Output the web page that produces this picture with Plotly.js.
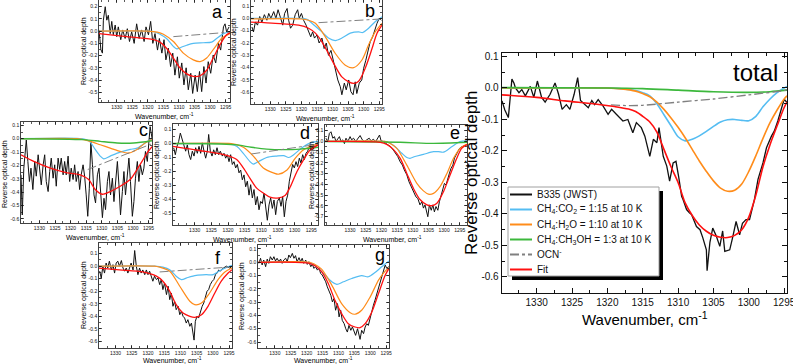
<!DOCTYPE html>
<html>
<head>
<meta charset="utf-8">
<script src="https://cdn.plot.ly/plotly-3.0.1.min.js"></script>
<style>
  html, body { margin: 0; padding: 0; background: #fff; }
  #chart { width: 793px; height: 364px; }
</style>
</head>
<body>
<div id="chart"></div>
<script>
// ---- data: [wavenumber cm-1, reverse optical depth] ----

// panel a
const aBlack = [[1335.7,0.01],[1335.1,-0.15],[1334.6,-0.18],[1334.3,0.09],[1333.7,0.2],[1333.2,0.09],[1332.7,0.13],[1332.1,-0.02],[1331.6,0.08],[1331.1,-0.03],[1330.5,0.05],[1330.0,-0.045],[1329.5,0.035],[1328.7,-0.07],[1328.1,0.01],[1327.3,-0.06],[1326.6,0.02],[1325.9,-0.085],[1325.2,-0.005],[1324.4,-0.1],[1323.6,0.06],[1322.8,-0.06],[1322.0,0.01],[1321.2,-0.085],[1320.6,0.035],[1319.8,-0.03],[1319.1,0.08],[1318.4,-0.1],[1317.7,-0.02],[1316.9,-0.155],[1316.3,-0.06],[1315.5,-0.18],[1314.8,-0.07],[1314.2,-0.235],[1313.4,-0.14],[1312.7,-0.29],[1312.0,-0.18],[1311.3,-0.36],[1310.5,-0.21],[1309.9,-0.385],[1309.1,-0.26],[1308.4,-0.44],[1307.7,-0.3],[1307.0,-0.48],[1306.2,-0.345],[1305.6,-0.51],[1304.8,-0.36],[1304.1,-0.495],[1303.4,-0.33],[1302.7,-0.495],[1302.0,-0.29],[1301.3,-0.425],[1300.6,-0.25],[1299.8,-0.345],[1299.0,-0.195],[1298.2,-0.26],[1297.3,-0.1],[1296.6,-0.155],[1295.7,0.035],[1295.2,0.06],[1294.7,-0.005],[1293.9,0.035]];
const aCO2 = [[1335.7,0],[1320,0],[1318,-0.005],[1316.1,-0.025],[1314,-0.06],[1311.8,-0.125],[1310.7,-0.145],[1309.1,-0.13],[1307.5,-0.115],[1305.4,-0.1],[1302.2,-0.095],[1299.5,-0.09],[1297.9,-0.06],[1295.7,-0.02],[1293.6,-0.003]];
const aH2O = [[1335.7,0],[1320,0],[1317,-0.008],[1315,-0.025],[1311.8,-0.085],[1308.6,-0.18],[1305.4,-0.235],[1303.2,-0.25],[1301.1,-0.22],[1298.4,-0.13],[1296.3,-0.06],[1293.6,-0.02]];
const aOCN = [[1311.8,-0.045],[1293.6,-0.008]];
const aFit = [[1335.7,-0.02],[1326.8,-0.045],[1318.2,-0.07],[1316.1,-0.09],[1314,-0.14],[1311.8,-0.22],[1309.7,-0.3],[1307.5,-0.35],[1305.4,-0.37],[1303.2,-0.365],[1301.1,-0.32],[1299,-0.22],[1296.8,-0.11],[1294.7,-0.03],[1293.6,-0.015]];

// panel b
const bBlack = [[1335.9,-0.07],[1335.4,-0.11],[1334.8,-0.03],[1334.1,-0.055],[1333.4,0.015],[1332.7,-0.03],[1331.9,0.03],[1331.1,-0.015],[1330.5,0.04],[1329.8,0],[1328.9,0.055],[1328.2,0],[1327.5,0.07],[1326.8,0.015],[1326.0,-0.055],[1325.4,0.04],[1324.6,0.08],[1324.1,-0.015],[1323.5,-0.08],[1322.8,-0.055],[1322.0,0.03],[1321.2,0.07],[1320.7,0],[1320.0,0.04],[1319.3,-0.015],[1318.5,-0.055],[1317.7,-0.11],[1317.0,-0.15],[1316.4,-0.11],[1315.8,-0.16],[1315.0,-0.135],[1314.3,-0.2],[1313.4,-0.16],[1312.7,-0.245],[1312.0,-0.2],[1311.3,-0.3],[1310.5,-0.26],[1309.7,-0.35],[1308.9,-0.43],[1308.3,-0.5],[1307.5,-0.555],[1307.0,-0.62],[1306.2,-0.525],[1305.6,-0.58],[1304.8,-0.5],[1304.1,-0.595],[1303.4,-0.62],[1302.7,-0.515],[1302.2,-0.61],[1301.4,-0.525],[1300.6,-0.5],[1300.0,-0.405],[1299.3,-0.34],[1298.6,-0.255],[1297.9,-0.19],[1297.1,-0.15],[1296.5,-0.095],[1295.7,-0.04],[1295.0,0],[1294.3,-0.015]];
const bCO2 = [[1336.2,0],[1320,0],[1318,-0.01],[1316.6,-0.04],[1313.4,-0.11],[1311.3,-0.16],[1309.1,-0.18],[1307,-0.16],[1304.3,-0.12],[1301.6,-0.11],[1300.3,-0.115],[1298.4,-0.08],[1296.3,-0.027],[1294.7,0],[1294.1,0.013]];
const bH2O = [[1336.2,-0.005],[1320,-0.005],[1317.7,-0.015],[1315.5,-0.04],[1312.3,-0.15],[1309.1,-0.285],[1305.9,-0.38],[1303.2,-0.4],[1300.6,-0.34],[1298.4,-0.215],[1296.3,-0.11],[1294.1,-0.04]];
const bOCN = [[1314.5,-0.035],[1294.4,-0.005]];
const bFit = [[1336.2,-0.03],[1328.4,-0.04],[1320.9,-0.055],[1317.7,-0.08],[1315.5,-0.12],[1313.4,-0.19],[1311.3,-0.285],[1309.1,-0.39],[1307,-0.475],[1304.8,-0.515],[1303.2,-0.527],[1301.6,-0.51],[1299.5,-0.405],[1297.3,-0.245],[1295.7,-0.12],[1294.1,-0.055]];

// panel c
const cBlack = [[1335.9,-0.27],[1335.5,-0.57],[1335.0,-0.22],[1334.5,-0.045],[1334.2,-0.01],[1333.7,-0.17],[1333.2,-0.32],[1332.7,-0.22],[1332.1,-0.38],[1331.5,-0.17],[1331.0,-0.28],[1330.4,-0.12],[1329.9,-0.245],[1329.4,-0.345],[1328.8,-0.195],[1328.3,-0.12],[1327.8,-0.32],[1327.2,-0.395],[1326.7,-0.245],[1326.2,-0.145],[1325.6,-0.295],[1325.1,-0.195],[1324.6,-0.355],[1324.0,-0.145],[1323.5,-0.23],[1323.0,-0.145],[1322.4,-0.27],[1321.9,-0.17],[1321.4,-0.27],[1320.8,-0.13],[1320.3,-0.32],[1319.8,-0.22],[1319.2,-0.305],[1318.7,-0.195],[1318.2,-0.32],[1317.6,-0.245],[1317.1,-0.38],[1316.6,-0.27],[1316.0,-0.195],[1315.5,-0.28],[1315.0,-0.42],[1314.5,-0.58],[1314.0,-0.37],[1313.5,-0.02],[1313.0,-0.195],[1312.5,-0.42],[1312.0,-0.48],[1311.4,-0.27],[1310.9,-0.22],[1310.4,-0.42],[1309.8,-0.59],[1309.3,-0.445],[1308.8,-0.53],[1308.2,-0.32],[1307.7,-0.245],[1307.2,-0.42],[1306.6,-0.295],[1306.1,-0.47],[1305.6,-0.32],[1305.0,-0.17],[1304.5,-0.345],[1304.0,-0.57],[1303.4,-0.395],[1302.9,-0.245],[1302.4,-0.42],[1301.8,-0.27],[1301.3,-0.145],[1300.8,-0.32],[1300.2,-0.58],[1299.7,-0.47],[1299.2,-0.295],[1298.6,-0.17],[1298.1,-0.32],[1297.6,-0.195],[1297.0,-0.27],[1296.5,-0.22],[1296.0,-0.095],[1295.4,-0.17],[1294.9,0.005],[1294.5,0.09],[1293.9,0.005]];
const cCO2 = [[1335.9,0],[1316,0],[1314.7,-0.01],[1313.7,-0.025],[1312.1,-0.08],[1310.5,-0.13],[1309.4,-0.15],[1307.3,-0.13],[1304.1,-0.1],[1300.9,-0.08],[1298.7,-0.07],[1296,-0.03],[1293.9,0]];
const cH2O = [[1335.9,0],[1318,0],[1315.5,-0.008],[1313.7,-0.02],[1310.5,-0.045],[1307.3,-0.07],[1304.1,-0.095],[1301.4,-0.107],[1298.7,-0.08],[1296,-0.03],[1293.9,-0.007]];
const cCH3OH = [[1335.9,0],[1315.8,-0.007],[1310.5,-0.02],[1305.1,-0.032],[1299.8,-0.032],[1293.9,-0.015]];
const cOCN = [[1314.5,-0.23],[1294.2,-0.04]];
const cFit = [[1335.9,-0.12],[1331.8,-0.17],[1326.5,-0.22],[1321.1,-0.255],[1316.9,-0.27],[1314.2,-0.305],[1312.1,-0.38],[1309.9,-0.415],[1307.3,-0.395],[1304.1,-0.355],[1300.9,-0.305],[1298.7,-0.23],[1297.1,-0.17],[1295.5,-0.107],[1293.9,-0.06]];

// panel d
const dBlack = [[1336.3,-0.03],[1335.8,-0.08],[1335.3,-0.02],[1334.8,0.015],[1334.3,0.075],[1333.8,0.03],[1333.3,0.005],[1332.7,-0.055],[1332.2,-0.01],[1331.7,-0.08],[1331.2,-0.115],[1330.7,-0.055],[1330.2,-0.09],[1329.7,-0.03],[1329.2,-0.07],[1328.7,-0.02],[1328.2,-0.07],[1327.7,0.005],[1327.2,-0.055],[1326.7,-0.105],[1326.2,-0.055],[1325.8,0.065],[1325.3,-0.055],[1324.8,-0.09],[1324.3,-0.045],[1323.8,-0.08],[1323.3,-0.03],[1322.8,-0.08],[1322.3,-0.055],[1321.7,-0.09],[1321.2,-0.07],[1320.7,-0.105],[1320.2,-0.08],[1319.7,-0.13],[1319.2,-0.08],[1318.7,-0.15],[1318.2,-0.13],[1317.7,-0.175],[1317.2,-0.15],[1316.7,-0.21],[1316.2,-0.19],[1315.7,-0.26],[1315.2,-0.225],[1314.7,-0.31],[1314.2,-0.27],[1313.7,-0.37],[1313.2,-0.295],[1312.7,-0.39],[1312.2,-0.33],[1311.7,-0.44],[1311.2,-0.38],[1310.7,-0.475],[1310.2,-0.415],[1309.7,-0.43],[1309.2,-0.355],[1308.7,-0.44],[1308.2,-0.55],[1307.7,-0.44],[1307.2,-0.39],[1306.7,-0.465],[1306.2,-0.405],[1305.7,-0.51],[1305.2,-0.415],[1304.6,-0.39],[1304.1,-0.45],[1303.6,-0.38],[1303.1,-0.525],[1302.6,-0.415],[1302.1,-0.37],[1301.6,-0.27],[1301.1,-0.2],[1300.6,-0.15],[1300.1,-0.175],[1299.6,-0.13],[1299.1,-0.165],[1298.6,-0.105],[1298.1,-0.14],[1297.6,-0.08],[1297.1,-0.115],[1296.6,-0.07],[1296.1,-0.055],[1295.6,-0.02],[1294.8,-0.045],[1293.8,-0.02],[1293.0,-0.01]];
const dCO2 = [[1336.5,0],[1321,0],[1319.4,-0.005],[1317.4,-0.02],[1315.4,-0.07],[1313.4,-0.13],[1312.4,-0.147],[1310.9,-0.13],[1308.4,-0.1],[1305.4,-0.09],[1303.3,-0.087],[1301.8,-0.1],[1300.3,-0.08],[1297.8,-0.03],[1295.3,0.005],[1293,0.015]];
const dH2O = [[1336.5,0],[1319,0],[1317.4,-0.008],[1315.4,-0.027],[1312.4,-0.09],[1309.4,-0.175],[1306.4,-0.21],[1304.8,-0.22],[1302.3,-0.19],[1299.8,-0.105],[1297.3,-0.045],[1294.3,-0.013],[1293,-0.003]];
const dCH3OH = [[1336.5,0],[1318,-0.008],[1313,-0.027],[1308.4,-0.04],[1303.3,-0.044],[1298.3,-0.04],[1293,-0.027]];
const dOCN = [[1313,-0.075],[1293,-0.005]];
const dFit = [[1336.5,-0.02],[1328.5,-0.05],[1320.4,-0.085],[1317.4,-0.115],[1315.4,-0.175],[1313.4,-0.25],[1311.4,-0.32],[1309.4,-0.355],[1307.4,-0.385],[1304.8,-0.39],[1302.8,-0.37],[1301.3,-0.31],[1299.3,-0.2],[1297.3,-0.115],[1295.3,-0.045],[1293,-0.01]];

// panel e
const eBlack = [[1337.7,0.03],[1337.1,0],[1336.6,0.075],[1336.1,0.09],[1335.5,0.03],[1335.0,0.045],[1334.5,0],[1333.9,0.03],[1333.4,0.045],[1332.9,0],[1332.3,0.015],[1331.8,-0.02],[1331.3,0.03],[1330.7,0],[1330.0,0.045],[1329.5,0.015],[1328.9,0.03],[1328.2,0],[1327.6,0.02],[1326.8,0.055],[1326.1,0.015],[1325.4,0],[1324.7,0.015],[1323.9,0.03],[1323.3,0.005],[1322.6,0.02],[1321.8,0],[1321.2,0.03],[1320.6,0.06],[1320.1,0.005],[1319.4,0],[1318.5,-0.02],[1317.8,-0.035],[1317.0,-0.05],[1316.2,-0.08],[1315.4,-0.11],[1314.8,-0.14],[1314.0,-0.19],[1313.3,-0.22],[1312.7,-0.265],[1311.9,-0.31],[1311.2,-0.375],[1310.5,-0.42],[1309.8,-0.465],[1309.0,-0.515],[1308.4,-0.53],[1307.7,-0.59],[1307.1,-0.56],[1306.6,-0.62],[1306.1,-0.59],[1305.5,-0.685],[1305.2,-0.7],[1304.7,-0.59],[1304.1,-0.64],[1303.6,-0.59],[1303.1,-0.655],[1302.6,-0.605],[1302.0,-0.64],[1301.5,-0.56],[1301.0,-0.5],[1300.4,-0.435],[1299.9,-0.39],[1299.4,-0.405],[1298.8,-0.33],[1298.3,-0.295],[1297.8,-0.25],[1297.2,-0.22],[1296.7,-0.155],[1296.2,-0.125],[1295.6,-0.08],[1295.1,-0.065],[1294.4,-0.05],[1293.3,-0.035]];
const eCO2 = [[1338,0],[1319,0],[1317.5,-0.012],[1315.6,-0.05],[1313.5,-0.11],[1311.9,-0.15],[1310.9,-0.157],[1309.3,-0.14],[1306.6,-0.12],[1303.4,-0.095],[1301.8,-0.095],[1300.2,-0.1],[1297.6,-0.05],[1294.9,0],[1292.7,0.005]];
const eH2O = [[1338,0],[1319,0],[1317.5,-0.015],[1315.1,-0.064],[1311.9,-0.22],[1308.7,-0.39],[1306.6,-0.46],[1305,-0.49],[1303.4,-0.483],[1301.3,-0.42],[1299.1,-0.297],[1297,-0.157],[1294.9,-0.064],[1292.7,-0.025]];
const eCH3OH = [[1338,0],[1314,-0.008],[1303.4,-0.018],[1292.7,-0.008]];
const eFit = [[1338,0],[1320.4,-0.008],[1318.3,-0.027],[1316.2,-0.074],[1314,-0.158],[1311.9,-0.297],[1309.8,-0.436],[1307.7,-0.54],[1305.5,-0.59],[1303.9,-0.597],[1302.3,-0.575],[1300.2,-0.467],[1298.1,-0.312],[1296,-0.158],[1294.4,-0.064],[1292.7,-0.03]];

// panel f
const fBlack = [[1334.9,-0.04],[1334.4,-0.095],[1333.9,0],[1333.4,-0.055],[1332.9,0.025],[1332.4,-0.015],[1331.9,0.04],[1331.3,-0.03],[1330.8,0.012],[1330.3,-0.055],[1329.8,0.025],[1329.3,0.04],[1328.8,0],[1328.2,0.045],[1327.7,-0.015],[1327.2,-0.04],[1326.7,-0.015],[1326.2,-0.055],[1325.7,-0.015],[1325.2,0.025],[1324.6,-0.03],[1324.1,0.125],[1323.6,0],[1323.1,-0.068],[1322.6,-0.015],[1322.1,-0.055],[1321.6,-0.03],[1321.0,-0.068],[1320.5,-0.03],[1320.0,-0.068],[1319.5,-0.04],[1319.0,-0.08],[1318.5,-0.12],[1318.0,-0.08],[1317.4,-0.107],[1316.9,-0.094],[1316.4,-0.147],[1315.9,-0.107],[1315.4,-0.187],[1314.9,-0.134],[1314.3,-0.227],[1313.8,-0.16],[1313.3,-0.267],[1312.8,-0.214],[1312.3,-0.32],[1311.8,-0.28],[1311.3,-0.347],[1310.7,-0.32],[1310.2,-0.387],[1309.7,-0.36],[1309.2,-0.4],[1308.7,-0.414],[1308.2,-0.454],[1307.7,-0.427],[1307.1,-0.48],[1306.6,-0.454],[1306.1,-0.52],[1305.8,-0.59],[1305.4,-0.44],[1304.9,-0.4],[1304.4,-0.414],[1303.8,-0.36],[1303.3,-0.32],[1302.8,-0.294],[1302.3,-0.24],[1301.8,-0.2],[1301.3,-0.187],[1300.8,-0.147],[1300.2,-0.12],[1299.7,-0.107],[1299.2,-0.068],[1298.7,-0.055],[1298.2,-0.03],[1297.7,-0.04],[1296.8,-0.015],[1295.8,0],[1294.8,-0.015],[1294.1,0]];
const fCO2 = [[1335.1,0],[1318,0],[1315.4,-0.008],[1313.3,-0.028],[1311.3,-0.08],[1309.7,-0.107],[1307.7,-0.09],[1305.1,-0.073],[1302,-0.068],[1299.9,-0.068],[1297.9,-0.036],[1295.8,-0.01],[1294.1,0.007]];
const fH2O = [[1335.1,0],[1318,0],[1316.4,-0.008],[1313.3,-0.04],[1310.2,-0.16],[1307.1,-0.28],[1305.6,-0.307],[1303.5,-0.294],[1301,-0.214],[1298.4,-0.107],[1296.3,-0.046],[1294.1,-0.015]];
const fOCN = [[1316.4,-0.046],[1294.1,-0.006]];
const fFit = [[1335.1,-0.015],[1328.8,-0.03],[1321.6,-0.046],[1317.4,-0.08],[1315.4,-0.12],[1313.3,-0.2],[1311.3,-0.307],[1309.2,-0.374],[1307.1,-0.4],[1305.6,-0.408],[1303.5,-0.387],[1301.5,-0.32],[1299.4,-0.214],[1297.4,-0.12],[1295.3,-0.055],[1294.1,-0.028]];

// panel g
const gBlack = [[1335.0,-0.008],[1334.5,0.03],[1334.0,-0.02],[1333.5,0.017],[1332.9,-0.033],[1332.4,0.024],[1331.9,-0.008],[1331.4,0.042],[1330.8,0.017],[1330.3,0.042],[1329.8,0.01],[1329.3,0.03],[1328.7,0.004],[1328.2,0.024],[1327.7,-0.008],[1327.2,0.017],[1326.6,0.03],[1326.1,0.004],[1325.6,0.055],[1325.1,0.035],[1324.5,0.067],[1324.0,0.03],[1323.5,0.05],[1323.0,0.004],[1322.4,0.035],[1321.9,0.004],[1321.4,0.03],[1320.9,-0.008],[1320.3,0.017],[1319.8,-0.016],[1319.3,0.004],[1318.7,-0.033],[1318.2,-0.016],[1317.7,-0.046],[1317.2,-0.033],[1316.6,-0.059],[1316.1,-0.046],[1315.6,-0.084],[1315.1,-0.096],[1314.5,-0.122],[1314.0,-0.147],[1313.5,-0.185],[1313.0,-0.21],[1312.4,-0.248],[1311.9,-0.298],[1311.4,-0.273],[1310.9,-0.361],[1310.3,-0.311],[1309.8,-0.411],[1309.3,-0.361],[1308.8,-0.437],[1308.2,-0.462],[1307.7,-0.5],[1307.2,-0.525],[1306.7,-0.475],[1306.1,-0.512],[1305.6,-0.487],[1305.1,-0.525],[1304.6,-0.55],[1304.0,-0.5],[1303.5,-0.562],[1303.2,-0.58],[1302.7,-0.512],[1302.1,-0.537],[1301.6,-0.487],[1301.1,-0.462],[1300.6,-0.475],[1300.0,-0.411],[1299.5,-0.361],[1299.0,-0.323],[1298.5,-0.285],[1297.9,-0.235],[1297.4,-0.197],[1296.9,-0.147],[1296.4,-0.109],[1295.8,-0.059],[1295.3,-0.021],[1294.8,-0.046],[1294.2,-0.033]];
const gCO2 = [[1335.3,0],[1320,0],[1319.5,-0.005],[1318,-0.015],[1316.3,-0.046],[1314.2,-0.096],[1312.1,-0.147],[1310.5,-0.167],[1308.4,-0.147],[1305.8,-0.122],[1302.7,-0.101],[1300.6,-0.109],[1298.5,-0.077],[1296.4,-0.034],[1294.1,0.01]];
const gH2O = [[1335.3,0],[1319,0],[1317.5,-0.015],[1315.3,-0.051],[1312.1,-0.172],[1309,-0.311],[1306.3,-0.379],[1304.8,-0.391],[1302.7,-0.361],[1300,-0.26],[1297.4,-0.134],[1295.3,-0.066],[1294.1,-0.041]];
const gFit = [[1335.3,0],[1319.5,-0.006],[1317.4,-0.026],[1315.3,-0.071],[1313.2,-0.16],[1311.1,-0.286],[1309,-0.386],[1306.9,-0.462],[1304.8,-0.487],[1303.2,-0.492],[1301.6,-0.462],[1299.5,-0.374],[1297.4,-0.235],[1295.3,-0.097],[1294.1,-0.046]];

// total
const totBlack = [[1334.9,-0.041],[1334.5,-0.07],[1334.0,-0.094],[1333.5,0.028],[1333.2,0.015],[1333.0,0.0],[1332.5,-0.015],[1332.1,-0.005],[1331.6,-0.025],[1330.9,0.005],[1330.4,-0.03],[1329.9,0.022],[1329.3,-0.03],[1328.8,-0.045],[1328.1,-0.02],[1327.4,0.016],[1326.9,-0.02],[1326.4,-0.068],[1325.8,-0.053],[1325.3,-0.068],[1324.7,-0.02],[1324.2,0.033],[1323.8,-0.04],[1323.2,-0.053],[1322.7,-0.063],[1322.2,-0.04],[1321.8,-0.053],[1321.3,-0.037],[1320.6,-0.058],[1319.9,-0.084],[1319.4,-0.068],[1318.7,-0.084],[1317.8,-0.105],[1317.1,-0.1],[1316.4,-0.142],[1315.9,-0.11],[1315.2,-0.126],[1314.7,-0.153],[1314.0,-0.217],[1313.5,-0.163],[1313.0,-0.174],[1312.7,-0.126],[1312.1,-0.217],[1311.6,-0.248],[1311.2,-0.296],[1310.7,-0.238],[1310.3,-0.233],[1309.9,-0.285],[1309.5,-0.344],[1309.3,-0.354],[1308.8,-0.386],[1308.4,-0.396],[1308.1,-0.402],[1307.4,-0.44],[1306.9,-0.45],[1306.5,-0.476],[1306.0,-0.514],[1305.9,-0.58],[1305.5,-0.49],[1305.1,-0.445],[1304.6,-0.47],[1304.1,-0.503],[1303.7,-0.454],[1303.4,-0.519],[1302.7,-0.514],[1302.3,-0.476],[1301.8,-0.424],[1301.3,-0.466],[1300.9,-0.43],[1300.4,-0.418],[1299.9,-0.418],[1299.2,-0.354],[1298.7,-0.29],[1298.0,-0.238],[1297.5,-0.19],[1296.8,-0.153],[1296.4,-0.137],[1295.9,-0.105],[1295.4,-0.063],[1295.0,-0.036],[1294.6,-0.046]];
const totCO2 = [[1334.9,0],[1320,0],[1318,-0.003],[1316,-0.008],[1315,-0.015],[1314,-0.025],[1313,-0.05],[1312,-0.085],[1311,-0.12],[1310,-0.155],[1309,-0.168],[1308,-0.163],[1307,-0.152],[1306,-0.138],[1305,-0.122],[1304,-0.108],[1303,-0.101],[1302,-0.1],[1301,-0.103],[1300,-0.104],[1299,-0.09],[1298,-0.06],[1297,-0.035],[1296,-0.015],[1295,0],[1294.6,0.005]];
const totH2O = [[1334.9,0],[1320,0],[1318,-0.003],[1316,-0.01],[1315,-0.018],[1314,-0.028],[1313,-0.045],[1312,-0.068],[1311,-0.095],[1310,-0.125],[1309,-0.158],[1308,-0.195],[1307,-0.232],[1306,-0.265],[1305,-0.295],[1304,-0.318],[1303,-0.328],[1302,-0.325],[1301,-0.305],[1300,-0.265],[1299,-0.215],[1298,-0.16],[1297,-0.11],[1296,-0.07],[1295,-0.035],[1294.6,-0.025]];
const totCH3OH = [[1334.9,0.001],[1320,0],[1315,-0.002],[1310,-0.007],[1305,-0.012],[1300,-0.014],[1297,-0.012],[1294.6,-0.007]];
const totOCN = [[1319.5,-0.054],[1317,-0.056],[1315,-0.055],[1310,-0.045],[1305,-0.035],[1300,-0.022],[1295,-0.008],[1294.6,-0.005]];
const totFit = [[1334.9,-0.022],[1330,-0.03],[1326,-0.041],[1322,-0.05],[1319,-0.059],[1317,-0.067],[1316,-0.075],[1315,-0.09],[1314,-0.108],[1313,-0.14],[1312,-0.195],[1311,-0.25],[1310,-0.3],[1309,-0.365],[1308,-0.405],[1307,-0.435],[1306,-0.455],[1305,-0.468],[1304,-0.474],[1303,-0.475],[1302,-0.468],[1301,-0.45],[1300,-0.41],[1299,-0.34],[1298,-0.25],[1297,-0.18],[1296,-0.12],[1295,-0.062],[1294.6,-0.045]];

const seriesNames = {
    black: 'B335 (JWST)',
    co2: 'CH<sub>4</sub>:CO<sub>2</sub> = 1:15 at 10 K',
    h2o: 'CH<sub>4</sub>:H<sub>2</sub>O = 1:10 at 10 K',
    ch3oh: 'CH<sub>4</sub>:CH<sub>3</sub>OH = 1:3 at 10 K',
    ocn: 'OCN<sup>-</sup>',
    fit: 'Fit'
};
const seriesOrder = ['black', 'co2', 'h2o', 'ch3oh', 'ocn', 'fit'];
const waveTicks = [1330, 1325, 1320, 1315, 1310, 1305, 1300, 1295];
const yTickVals = [0.2, 0.1, 0.0, -0.1, -0.2, -0.3, -0.4, -0.5, -0.6, -0.7];

// ---- styles / layout ----
const FONT = 'Arial, "Liberation Sans", sans-serif';
const W = 793, H = 364;

const styles = {
    black: { color: '#111111', w: 1, wt: 1.3 },
    co2:   { color: '#55bdf2', w: 1.2, wt: 1.6 },
    h2o:   { color: '#ff8c1a', w: 1.2, wt: 1.6 },
    ch3oh: { color: '#3cb83c', w: 1.4, wt: 1.6 },
    ocn:   { color: '#808080', w: 1, wt: 1.3, dash: 'dashdot' },
    fit:   { color: '#ff1010', w: 1.3, wt: 1.6 }
};

const panels = [
    { letter: 'total', px: [502, 787], py: [53, 293], xr: [1334.9, 1294.6], yr: [-0.651, 0.111],
      data: { black: totBlack, co2: totCO2, h2o: totH2O, ch3oh: totCH3OH, ocn: totOCN, fit: totFit },
      lab: [755, 73], xt: [645, 318], yt: [471, 173], big: true },
    { letter: 'a', px: [99, 230], py: [0, 102], xr: [1335.7, 1293.6], yr: [-0.58, 0.255],
      data: { black: aBlack, co2: aCO2, h2o: aH2O, ocn: aOCN, fit: aFit },
      lab: [217, 12], xt: [164, 116], yt: [84, 51] },
    { letter: 'b', px: [251, 382], py: [0, 104], xr: [1336.2, 1294.1], yr: [-0.695, 0.149],
      data: { black: bBlack, co2: bCO2, h2o: bH2O, ocn: bOCN, fit: bFit },
      lab: [370, 11], xt: [325, 118], yt: [234, 52] },
    { letter: 'c', px: [21, 152], py: [122, 223], xr: [1335.9, 1293.9], yr: [-0.63, 0.125],
      data: { black: cBlack, co2: cCO2, h2o: cH2O, ch3oh: cCH3OH, ocn: cOCN, fit: cFit },
      lab: [143, 130], xt: [95, 237], yt: [5, 174] },
    { letter: 'd', px: [173, 318], py: [124, 225], xr: [1336.5, 1293], yr: [-0.584, 0.14],
      data: { black: dBlack, co2: dCO2, h2o: dH2O, ch3oh: dCH3OH, ocn: dOCN, fit: dFit },
      lab: [305, 133], xt: [242, 239], yt: [157, 175] },
    { letter: 'e', px: [325, 467], py: [125, 225], xr: [1338, 1292.7], yr: [-0.777, 0.153],
      data: { black: eBlack, co2: eCO2, h2o: eH2O, ch3oh: eCH3OH, fit: eFit },
      lab: [455, 133], xt: [392, 239], yt: [312, 175] },
    { letter: 'f', px: [99, 232], py: [243, 348], xr: [1335.1, 1294.1], yr: [-0.653, 0.185],
      data: { black: fBlack, co2: fCO2, h2o: fH2O, ocn: fOCN, fit: fFit },
      lab: [218, 258], xt: [172, 360], yt: [84, 295] },
    { letter: 'g', px: [258, 389], py: [245, 348], xr: [1335.3, 1294.1], yr: [-0.645, 0.13],
      data: { black: gBlack, co2: gCO2, h2o: gH2O, fit: gFit },
      lab: [380, 255], xt: [323, 360], yt: [242, 296] }
];

const traces = [];
const annotations = [];
const shapes = [];
const layout = {
    width: W, height: H,
    margin: { l: 0, r: 0, t: 0, b: 0 },
    paper_bgcolor: 'white', plot_bgcolor: 'white',
    font: { family: FONT, color: '#000' },
    showlegend: false,
    shapes: shapes,
    annotations: annotations
};

panels.forEach((p, i) => {
    const n = i === 0 ? '' : String(i + 1);
    const big = !!p.big;
    const tickFont = { family: FONT, size: big ? 10 : 5, color: '#111' };
    const common = {
        showline: true, linecolor: '#111', linewidth: big ? 1.3 : 0.8,
        mirror: 'ticks', ticks: 'inside', ticklen: big ? 5 : 3, tickwidth: big ? 1 : 0.7,
        tickcolor: '#111', showgrid: false, zeroline: false, tickfont: tickFont,
        tickangle: 0, ticklabeloverflow: 'allow', fixedrange: true
    };
    layout['xaxis' + n] = Object.assign({}, common, {
        domain: [p.px[0] / W, p.px[1] / W], range: p.xr, anchor: 'y' + n,
        tickmode: 'array', tickvals: waveTicks, ticktext: waveTicks.map(String),
        minor: { ticks: 'inside', ticklen: big ? 3 : 2, tickcolor: '#111', tickmode: 'linear', dtick: 2.5, tick0: 1295, showgrid: false }
    });
    layout['yaxis' + n] = Object.assign({}, common, {
        domain: [1 - p.py[1] / H, 1 - p.py[0] / H], range: p.yr, anchor: 'x' + n,
        tickmode: 'array', tickvals: yTickVals, ticktext: yTickVals.map(v => v.toFixed(1)),
        minor: { ticks: 'inside', ticklen: big ? 3 : 2, tickcolor: '#111', tickmode: 'linear', dtick: 0.05, tick0: 0, showgrid: false }
    });

    seriesOrder.forEach(key => {
        const pts = p.data[key];
        if (!pts) return;
        const st = styles[key];
        traces.push({
            type: 'scatter', mode: 'lines',
            x: pts.map(d => d[0]), y: pts.map(d => d[1]),
            xaxis: 'x' + n, yaxis: 'y' + n,
            name: seriesNames[key], showlegend: false,
            line: { color: st.color, width: big ? st.wt : st.w, dash: st.dash || 'solid',
                    shape: key === 'black' ? 'linear' : 'spline', smoothing: 0.8 },
            hoverinfo: 'skip'
        });
    });

    annotations.push({
        xref: 'paper', yref: 'paper', x: p.lab[0] / W, y: 1 - p.lab[1] / H,
        text: p.letter, showarrow: false, xanchor: 'center', yanchor: 'middle',
        font: { family: FONT, size: big ? 24 : 18, color: '#000' }
    });
    annotations.push({
        xref: 'paper', yref: 'paper', x: p.xt[0] / W, y: 1 - p.xt[1] / H,
        text: 'Wavenumber, cm<sup>-1</sup>', showarrow: false, xanchor: 'center', yanchor: 'middle',
        font: { family: FONT, size: big ? 15 : 7, color: '#000' }
    });
    annotations.push({
        xref: 'paper', yref: 'paper', x: p.yt[0] / W, y: 1 - p.yt[1] / H,
        text: 'Reverse optical depth', showarrow: false, textangle: -90,
        xanchor: 'center', yanchor: 'middle',
        font: { family: FONT, size: big ? 17 : 7, color: '#000' }
    });
});

// legend of the total panel, drawn by hand (box with drop shadow)
const LEG = { x0: 508, x1: 659, y0: 187, y1: 276, shadow: 4, row0: 194.5, rowH: 15, lineX: [510, 532], textX: 535 };
const px2x = v => v / W;
const py2y = v => 1 - v / H;
shapes.push({ type: 'rect', xref: 'paper', yref: 'paper', layer: 'above',
    x0: px2x(LEG.x0 + LEG.shadow), x1: px2x(LEG.x1 + LEG.shadow),
    y0: py2y(LEG.y1 + LEG.shadow), y1: py2y(LEG.y0 + LEG.shadow),
    fillcolor: 'black', line: { width: 0 } });
shapes.push({ type: 'rect', xref: 'paper', yref: 'paper', layer: 'above',
    x0: px2x(LEG.x0), x1: px2x(LEG.x1), y0: py2y(LEG.y1), y1: py2y(LEG.y0),
    fillcolor: 'white', line: { color: '#a0a0a0', width: 1 } });
seriesOrder.forEach((key, k) => {
    const st = styles[key];
    const yy = LEG.row0 + k * LEG.rowH;
    shapes.push({ type: 'line', xref: 'paper', yref: 'paper', layer: 'above',
        x0: px2x(LEG.lineX[0]), x1: px2x(LEG.lineX[1]), y0: py2y(yy), y1: py2y(yy),
        line: { color: st.color, width: 2, dash: st.dash || 'solid' } });
    annotations.push({ xref: 'paper', yref: 'paper', x: px2x(LEG.textX), y: py2y(yy),
        text: seriesNames[key], showarrow: false, xanchor: 'left', yanchor: 'middle',
        font: { family: FONT, size: 10, color: '#111' } });
});

Plotly.newPlot('chart', traces, layout, { staticPlot: true, displayModeBar: false });
</script>
</body>
</html>
